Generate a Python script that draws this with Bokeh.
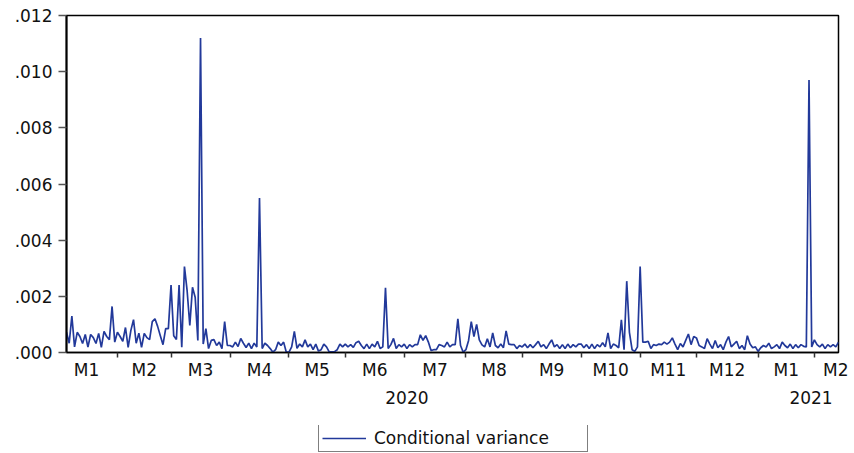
import numpy as np
from bokeh.plotting import figure
from bokeh.layouts import column
from bokeh.models import Range1d, FixedTicker, LinearAxis, Legend, LegendItem
from bokeh.embed import file_html
from bokeh.resources import INLINE

# ---- data: daily conditional variance, by month (business days) ----
jan20 = [0.00072, 0.00033, 0.00130, 0.00020, 0.00072, 0.00057, 0.00032, 0.00064, 0.00019, 0.00064,
         0.00053, 0.00032, 0.00068, 0.00018, 0.00075, 0.00057, 0.00046, 0.00164, 0.00037]
feb20 = [0.00072, 0.00057, 0.00040, 0.00089, 0.00018, 0.00078, 0.00117, 0.00033, 0.00069, 0.00018,
         0.00068, 0.00053, 0.00046, 0.00110, 0.00120, 0.00093, 0.00060, 0.00028, 0.00085, 0.00085]
mar20 = [0.00240, 0.00060, 0.00046, 0.00240, 0.00019, 0.00306, 0.00220, 0.00096, 0.00232, 0.00197,
         0.00043, 0.01120, 0.00030, 0.00085, 0.00014, 0.00043, 0.00046, 0.00025, 0.00037, 0.00014,
         0.00110, 0.00025]
apr20 = [0.00025, 0.00020, 0.00037, 0.00021, 0.00050, 0.00033, 0.00018, 0.00033, 0.00014, 0.00033,
         0.00020, 0.00550, 0.00014, 0.00033, 0.00025, 0.00014, 0.00001, 0.00010, 0.00037, 0.00025,
         0.00037, 0.00001]
may20 = [0.00001, 0.00020, 0.00075, 0.00015, 0.00030, 0.00020, 0.00045, 0.00020, 0.00030, 0.00010,
         0.00030, 0.00005, 0.00010, 0.00030, 0.00020, 0.00002, 0.00002, 0.00003, 0.00010, 0.00030,
         0.00020]
jun20 = [0.00030, 0.00020, 0.00028, 0.00018, 0.00035, 0.00040, 0.00025, 0.00014, 0.00030, 0.00014,
         0.00030, 0.00020, 0.00040, 0.00014, 0.00020, 0.00230, 0.00014, 0.00028, 0.00050, 0.00014,
         0.00028, 0.00020]
jul20 = [0.00030, 0.00014, 0.00028, 0.00020, 0.00028, 0.00028, 0.00063, 0.00043, 0.00060, 0.00037,
         0.00007, 0.00010, 0.00010, 0.00028, 0.00025, 0.00020, 0.00037, 0.00020, 0.00028, 0.00028,
         0.00120, 0.00025, 0.00001]
aug20 = [0.00010, 0.00043, 0.00110, 0.00057, 0.00100, 0.00045, 0.00027, 0.00020, 0.00049, 0.00020,
         0.00070, 0.00025, 0.00017, 0.00030, 0.00017, 0.00077, 0.00030, 0.00028, 0.00028, 0.00014,
         0.00025]
sep20 = [0.00020, 0.00030, 0.00017, 0.00028, 0.00017, 0.00028, 0.00040, 0.00020, 0.00028, 0.00014,
         0.00030, 0.00045, 0.00020, 0.00028, 0.00014, 0.00028, 0.00014, 0.00030, 0.00017, 0.00028,
         0.00020, 0.00030]
oct20 = [0.00030, 0.00017, 0.00028, 0.00014, 0.00030, 0.00014, 0.00028, 0.00020, 0.00035, 0.00020,
         0.00070, 0.00014, 0.00030, 0.00025, 0.00017, 0.00116, 0.00010, 0.00254, 0.00072, 0.00010,
         0.00004, 0.00020]
nov20 = [0.00306, 0.00037, 0.00037, 0.00040, 0.00014, 0.00028, 0.00025, 0.00030, 0.00028, 0.00037,
         0.00030, 0.00037, 0.00052, 0.00030, 0.00010, 0.00032, 0.00020, 0.00043, 0.00066, 0.00028,
         0.00057]
dec20 = [0.00052, 0.00025, 0.00020, 0.00014, 0.00049, 0.00030, 0.00014, 0.00043, 0.00017, 0.00028,
         0.00010, 0.00037, 0.00057, 0.00020, 0.00030, 0.00040, 0.00014, 0.00025, 0.00010, 0.00060,
         0.00030, 0.00017, 0.00020]
jan21 = [0.00004, 0.00017, 0.00025, 0.00020, 0.00033, 0.00014, 0.00020, 0.00028, 0.00014, 0.00037,
         0.00025, 0.00017, 0.00030, 0.00014, 0.00028, 0.00017, 0.00028, 0.00022, 0.00020, 0.00970,
         0.00020]
feb21 = [0.00045, 0.00028, 0.00020, 0.00030, 0.00014, 0.00028, 0.00020, 0.00028, 0.00020, 0.00037]

months = [jan20, feb20, mar20, apr20, may20, jun20, jul20, aug20, sep20, oct20, nov20, dec20, jan21, feb21]
month_labels = ["M1", "M2", "M3", "M4", "M5", "M6", "M7", "M8", "M9", "M10", "M11", "M12", "M1", "M2"]
month_years = [2020] * 12 + [2021] * 2
year_labels = ["2020", "2021"]
full_first_month_days = 23   # business days in Jan 2020 (first month is partial)
full_last_month_days = 20    # business days in Feb 2021 (last month is partial)
series_name = "Conditional variance"

y_ticks = [0.0, 0.002, 0.004, 0.006, 0.008, 0.010, 0.012]
y_tick_labels = [".000", ".002", ".004", ".006", ".008", ".010", ".012"]

# ---- derived ----
values = [v for m in months for v in m]
N = len(values)
x = list(range(N))
lengths = [len(m) for m in months]
starts = [int(s) for s in np.cumsum([0] + lengths[:-1])]
ends = starts[1:] + [N]
x_max = N - 1

label_pos = [float((s + e) / 2) for s, e in zip(starts, ends)]
label_pos[0] = float(ends[0] - full_first_month_days / 2)
label_pos[-1] = float(min(starts[-1] + full_last_month_days / 2, x_max - 1))
boundaries = [float(s) for s in starts[1:]]

year_pos = []
for yr in sorted(set(month_years)):
    idx = [i for i, m in enumerate(month_years) if m == yr]
    year_pos.append(float((label_pos[idx[0]] + label_pos[idx[-1]]) / 2))

FONT = "DejaVu Sans"
FSIZE = "17px"
LINE_COLOR = "#22399a"
TEXT_COLOR = "#111111"
W = 854
MAIN_H = 425
LEG_H = 28

p = figure(width=W, height=MAIN_H, output_backend="svg", toolbar_location=None,
           x_axis_type=None, x_range=Range1d(0, x_max), y_range=Range1d(0, 0.012),
           min_border=0, min_border_left=66, min_border_right=16,
           min_border_top=15, min_border_bottom=73)
p.background_fill_color = "white"
p.border_fill_color = "white"
p.outline_line_color = "black"
p.outline_line_width = 1.5
p.xgrid.visible = False
p.ygrid.visible = False

r = p.line(x, values, line_color=LINE_COLOR, line_width=1.7)

# y axis
ya = p.yaxis[0]
ya.ticker = FixedTicker(ticks=y_ticks)
ya.major_label_overrides = dict(zip(y_ticks, y_tick_labels))
ya.major_tick_out = 8
ya.major_tick_in = 0
ya.minor_tick_line_color = None
ya.axis_line_color = "black"
ya.axis_line_width = 2
ya.major_tick_line_color = "#555555"
ya.major_tick_line_width = 1.5
ya.major_label_standoff = 6
ya.major_label_text_font = FONT
ya.major_label_text_font_size = FSIZE
ya.major_label_text_color = TEXT_COLOR

# month axis: labels centred in months, minor ticks at month boundaries
ax_m = LinearAxis(ticker=FixedTicker(ticks=label_pos, minor_ticks=boundaries),
                  major_label_overrides=dict(zip(label_pos, month_labels)))
ax_m.major_tick_out = 0
ax_m.major_tick_in = 0
ax_m.major_tick_line_color = None
ax_m.minor_tick_out = 5
ax_m.minor_tick_in = 0
ax_m.minor_tick_line_color = "#333333"
ax_m.minor_tick_line_width = 1.5
ax_m.axis_line_color = "black"
ax_m.axis_line_width = 1.5
ax_m.major_label_standoff = 2
ax_m.major_label_text_font = FONT
ax_m.major_label_text_font_size = FSIZE
ax_m.major_label_text_color = TEXT_COLOR
p.add_layout(ax_m, "below")

# year axis
ax_y = LinearAxis(ticker=FixedTicker(ticks=year_pos),
                  major_label_overrides=dict(zip(year_pos, year_labels)))
ax_y.major_tick_out = 0
ax_y.major_tick_in = 0
ax_y.major_tick_line_color = None
ax_y.minor_tick_line_color = None
ax_y.axis_line_color = None
ax_y.major_label_standoff = 8
ax_y.major_label_text_font = FONT
ax_y.major_label_text_font_size = FSIZE
ax_y.major_label_text_color = TEXT_COLOR
p.add_layout(ax_y, "below")

# legend strip below the chart (its frame is aligned with the main frame by the column)
lg = figure(width=W, height=LEG_H, output_backend="svg", toolbar_location=None,
            x_axis_type=None, y_axis_type=None, x_range=Range1d(0, 1), y_range=Range1d(0, 1),
            min_border=0, min_border_left=66, min_border_right=16)
lg.outline_line_color = None
lg.xgrid.visible = False
lg.ygrid.visible = False
lg.background_fill_color = "white"
lg.border_fill_color = "white"
# legend proxy of the series line (kept outside the strip's visible range)
r_leg = lg.line([0, 1], [-1, -1], line_color=LINE_COLOR, line_width=1.7)

legend = Legend(items=[LegendItem(label=series_name, renderers=[r_leg])], location=(252, 1))
legend.border_line_color = "black"
legend.border_line_width = 1
legend.background_fill_color = "white"
legend.background_fill_alpha = 1
legend.padding = 3
legend.spacing = 0
legend.margin = 0
legend.glyph_width = 44
legend.glyph_height = 16
legend.label_standoff = 8
legend.label_width = 210
legend.label_height = 18
legend.label_text_font = FONT
legend.label_text_font_size = FSIZE
legend.label_text_color = TEXT_COLOR
lg.add_layout(legend, "center")

layout = column(p, lg, spacing=0)
open("out.html", "w").write(file_html(layout, INLINE))
